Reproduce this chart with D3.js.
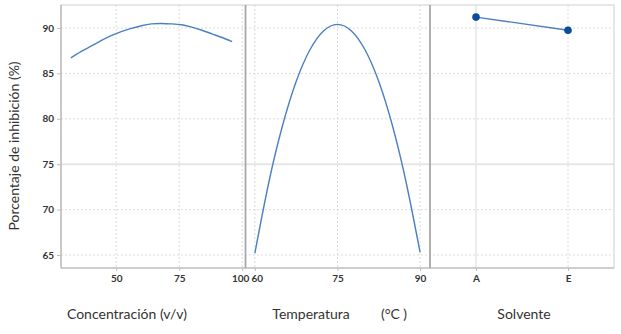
<!DOCTYPE html>
<html><head><meta charset="utf-8">
<script src="https://cdn.jsdelivr.net/npm/d3@7"></script>
<style>
body{margin:0;background:#fff;}
svg{display:block;font-family:Lato,"Open Sans",sans-serif;}
</style></head>
<body><svg id="c" width="621" height="334"></svg>
<script>
// Data
const concX = [32, 36, 40, 44, 48, 52, 56, 60, 64, 68, 72, 76, 80, 84, 88, 92, 96];
const concY = [86.7, 87.4, 88.0, 88.6, 89.15, 89.6, 89.95, 90.25, 90.45, 90.5, 90.45, 90.35, 90.1, 89.75, 89.35, 88.95, 88.5];
const tempX = [60, 62.5, 65, 67.5, 70, 72.5, 75, 77.5, 80, 82.5, 85, 87.5, 90];
const tempY = [65.2, 72.9, 79.2, 84.1, 87.6, 89.7, 90.4, 89.7, 87.6, 84.1, 79.2, 72.9, 65.3];
const solvents = ["A", "E"];
const solventY = [91.2, 89.75];
const yTicks = [65, 70, 75, 80, 85, 90];
const concTicks = [50, 75, 100];
const tempTicks = [60, 75, 90];

const svg = d3.select("#c");
const pTop = 5, pBottom = 268, pLeft = 61, pRight = 614, sep1 = 245.5, sep2 = 430;
const lineColor = "#4a7fc1", ptColor = "#0b4c9c", gridC = "#dcdcdc", txt = "#333";

const y = d3.scaleLinear().domain([63.57, 92.53]).range([pBottom, pTop]);
const x1 = d3.scaleLinear().domain([28.1, 101.3]).range([pLeft, sep1]);
const x2 = d3.scaleLinear().domain([58.3, 91.8]).range([sep1, sep2]);
const x3 = d3.scalePoint().domain(solvents).range([sep2, pRight]).padding(0.5);

const g = svg.append("g");
// horizontal grid
yTicks.forEach(t => {
  g.append("line").attr("x1", pLeft).attr("x2", pRight).attr("y1", y(t)).attr("y2", y(t))
    .attr("stroke", t === 75 ? "#e6e6e6" : gridC)
    .attr("stroke-width", t === 75 ? 2 : 1)
    .attr("stroke-dasharray", t === 75 ? null : "2,2");
});
// vertical grid
function vgrid(xs, scale, solidFirst) {
  xs.forEach((t, i) => {
    const solid = solidFirst && i === 0;
    g.append("line").attr("x1", scale(t)).attr("x2", scale(t)).attr("y1", pTop).attr("y2", pBottom)
      .attr("stroke", solid ? "#e6e6e6" : gridC)
      .attr("stroke-width", solid ? 1.5 : 1)
      .attr("stroke-dasharray", solid ? null : "2,2");
  });
}
vgrid(concTicks, x1, false);
vgrid(tempTicks, x2, false);
vgrid(solvents, x3, true);

// frame
g.append("rect").attr("x", pLeft).attr("y", pTop).attr("width", pRight - pLeft).attr("height", pBottom - pTop)
  .attr("fill", "none").attr("stroke", "#cfcfcf").attr("stroke-width", 1);
g.append("line").attr("x1", pLeft).attr("x2", pLeft).attr("y1", pTop).attr("y2", pBottom).attr("stroke", "#b5b5b5").attr("stroke-width", 1.2);
g.append("line").attr("x1", pLeft).attr("x2", pRight).attr("y1", pBottom).attr("y2", pBottom).attr("stroke", "#b5b5b5").attr("stroke-width", 1.2);
[sep1, sep2].forEach(s => g.append("line").attr("x1", s).attr("x2", s).attr("y1", pTop).attr("y2", pBottom)
  .attr("stroke", "#a8a8a8").attr("stroke-width", 1.8));

// axes
const yAxis = svg.append("g").attr("transform", `translate(${pLeft},0)`)
  .call(d3.axisLeft(y).tickValues(yTicks).tickSize(4).tickPadding(3));
function xAxis(scale, vals) {
  return svg.append("g").attr("transform", `translate(0,${pBottom})`)
    .call(d3.axisBottom(scale).tickValues(vals).tickSize(3).tickPadding(4));
}
const ax1 = xAxis(x1, concTicks), ax2 = xAxis(x2, tempTicks);
const axs = [yAxis, ax1, ax2, xAxis(x3, solvents)];
axs.forEach(a => {
  a.select(".domain").remove();
  a.selectAll(".tick line").attr("stroke", "#bdbdbd");
  a.selectAll(".tick text").attr("fill", txt).attr("font-size", 10).attr("font-weight", "bold")
    .attr("font-family", "Lato, sans-serif");
});
// the adjoining "100" and "60" labels nearly touch in the reference
ax1.selectAll(".tick text").filter(d => d === 100).attr("dx", -2);
ax2.selectAll(".tick text").filter(d => d === 60).attr("dx", 2);

// curves
const line1 = d3.line().x((d, i) => x1(concX[i])).y(d => y(d)).curve(d3.curveNatural);
svg.append("path").attr("d", line1(concY)).attr("fill", "none").attr("stroke", lineColor).attr("stroke-width", 1.4);
const line2 = d3.line().x((d, i) => x2(tempX[i])).y(d => y(d)).curve(d3.curveNatural);
svg.append("path").attr("d", line2(tempY)).attr("fill", "none").attr("stroke", lineColor).attr("stroke-width", 1.4);
const line3 = d3.line().x((d, i) => x3(solvents[i])).y(d => y(d));
svg.append("path").attr("d", line3(solventY)).attr("fill", "none").attr("stroke", lineColor).attr("stroke-width", 1.4);
svg.selectAll(".pt").data(solventY).enter().append("circle")
  .attr("cx", (d, i) => x3(solvents[i])).attr("cy", d => y(d)).attr("r", 3.8).attr("fill", ptColor);

// titles
const tstyle = s => s.attr("fill", txt).attr("font-size", 14).attr("font-family", "Lato, sans-serif");
svg.append("text").attr("x", 127).attr("y", 319).attr("text-anchor", "middle").text("Concentración (v/v)").call(tstyle);
svg.append("text").attr("x", 311).attr("y", 319).attr("text-anchor", "middle").text("Temperatura").call(tstyle);
svg.append("text").attr("x", 394).attr("y", 319).attr("text-anchor", "middle").text("(°C )").call(tstyle);
svg.append("text").attr("x", 524).attr("y", 319).attr("text-anchor", "middle").text("Solvente").call(tstyle);
svg.append("text").attr("transform", "translate(19,146) rotate(-90)").attr("text-anchor", "middle")
  .text("Porcentaje de inhibición (%)").call(tstyle);
</script></body></html>
